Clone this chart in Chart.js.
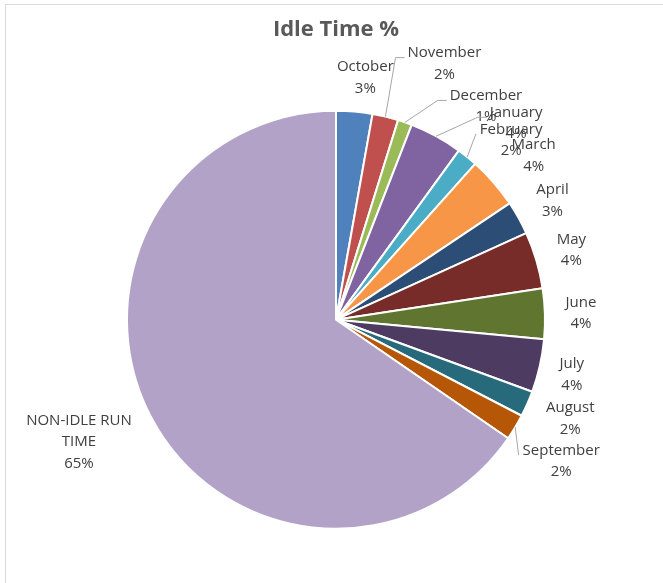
<!DOCTYPE html>
<html>
<head>
<meta charset="utf-8">
<script src="https://cdn.jsdelivr.net/npm/chart.js@4/dist/chart.umd.min.js"></script>
<style>
  html, body { margin: 0; padding: 0; background: #fff; }
  #wrap { position: relative; width: 663px; height: 583px; }
  #frame { position: absolute; left: 5px; top: 4px; right: 0; bottom: 0;
           border-top: 1.5px solid #D9D9D9; border-left: 1.5px solid #D9D9D9; }
  canvas { position: absolute; left: 0; top: 0; }
</style>
</head>
<body>
<div id="wrap">
  <div id="frame"></div>
  <canvas id="c" width="663" height="583"></canvas>
</div>
<script>
const categories = ["October", "November", "December", "January", "February", "March",
  "April", "May", "June", "July", "August", "September", "NON-IDLE RUN TIME"];
const idleShare = [2.8, 2.0, 1.1, 4.1, 1.6, 4.0, 2.6, 4.4, 3.9, 4.1, 2.0, 2.0, 65.4];
const sliceColors = ["#4F81BD", "#C0504D", "#9BBB59", "#8064A2", "#4BACC6", "#F79646",
  "#2C4D75", "#772C2A", "#5F7530", "#4D3B62", "#276A7C", "#B65708", "#B3A2C7"];
const labelLines = [["October"], ["November"], ["December"], ["January"], ["February"], ["March"],
  ["April"], ["May"], ["June"], ["July"], ["August"], ["September"], ["NON-IDLE RUN", "TIME"]];

// label placement: offset of label block centre from the slice's outer mid point
const labelOffsets = [[11,-34],[59,-53],[81,-16],[80,-13],[44,-17],[40,-26.5],[34,-17],
  [35,-10],[36,-0.5],[32,9],[43,15],[46,34],[-72,25]];
const hasLeader = [false,true,true,true,true,false,false,false,false,false,false,true,false];

const FONT = '"Open Sans", "DejaVu Sans", sans-serif';

const labelPlugin = {
  id: 'pieLabels',
  afterDatasetsDraw(chart) {
    const ctx = chart.ctx;
    const meta = chart.getDatasetMeta(0);
    const data = chart.data.datasets[0].data;
    const total = data.reduce((a, b) => a + b, 0);
    const lh = 21.5;
    ctx.save();
    ctx.font = '15px ' + FONT;
    ctx.textAlign = 'center';
    ctx.textBaseline = 'middle';
    meta.data.forEach((arc, i) => {
      const p = arc.getProps(['x','y','startAngle','endAngle','outerRadius'], true);
      const mid = (p.startAngle + p.endAngle) / 2;
      const ax = p.x + Math.cos(mid) * p.outerRadius;
      const ay = p.y + Math.sin(mid) * p.outerRadius;
      const cx = ax + labelOffsets[i][0];
      const cy = ay + labelOffsets[i][1];
      const lines = labelLines[i].concat([Math.round(data[i] / total * 100) + '%']);
      const w = Math.max(...lines.map(t => ctx.measureText(t).width));
      if (hasLeader[i]) {
        const left = cx - w / 2;
        const ly = cy - 6;
        ctx.strokeStyle = '#A6A6A6';
        ctx.lineWidth = 1;
        ctx.beginPath();
        ctx.moveTo(ax, ay);
        if (left - ax > 15) {
          ctx.lineTo(left - 12, ly);
          ctx.lineTo(left - 3, ly);
        } else {
          ctx.lineTo(left - 4, ly);
        }
        ctx.stroke();
      }
      ctx.fillStyle = '#404040';
      const top = cy - (lines.length - 1) * lh / 2;
      lines.forEach((t, k) => ctx.fillText(t, cx, top + k * lh));
    });
    ctx.restore();
  }
};

new Chart(document.getElementById('c'), {
  type: 'pie',
  data: {
    labels: categories,
    datasets: [{
      data: idleShare,
      backgroundColor: sliceColors,
      borderColor: '#FFFFFF',
      borderWidth: 2
    }]
  },
  options: {
    responsive: false,
    animation: false,
    layout: { padding: { left: 126, right: 117, top: 10, bottom: 53 } },
    plugins: {
      legend: { display: false },
      tooltip: { enabled: false },
      title: {
        display: true,
        text: 'Idle Time %',
        color: '#595959',
        font: { family: FONT, size: 22, weight: 'bold' },
        padding: { top: 7, bottom: 66 }
      }
    }
  },
  plugins: [labelPlugin]
});
</script>
</body>
</html>
